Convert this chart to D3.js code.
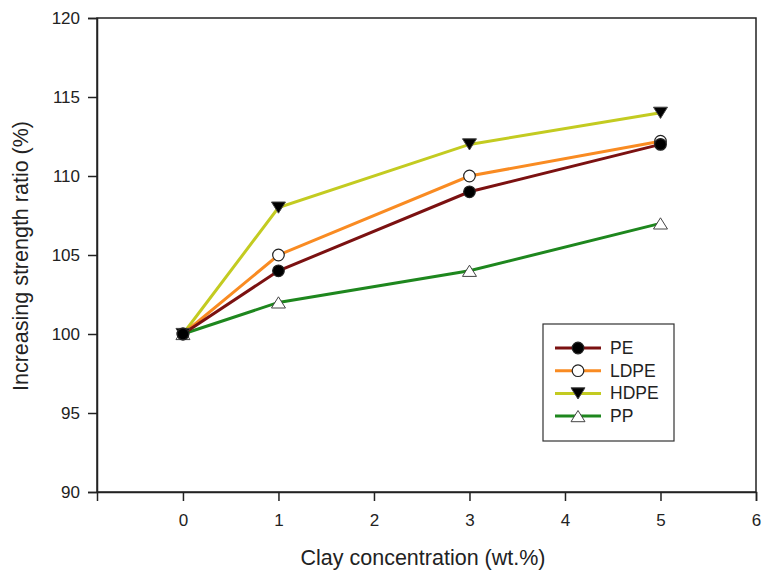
<!DOCTYPE html>
<html>
<head>
<meta charset="utf-8">
<script src="https://cdn.jsdelivr.net/npm/d3@7"></script>
<style>
  body { margin: 0; background: #fff; }
  svg text { font-family: "Liberation Sans", Arial, sans-serif; fill: #222; }
</style>
</head>
<body>
<svg id="chart" width="762" height="571"></svg>
<script>
// Chart data
const clay = [0, 1, 3, 5];
const pe = [100, 104, 109, 112];
const ldpe = [100, 105, 110, 112.2];
const hdpe = [100, 108, 112, 114];
const pp = [100, 102, 104, 107];
const xTicks = [0, 1, 2, 3, 4, 5, 6];
const yTicks = [90, 95, 100, 105, 110, 115, 120];

const series = [
  { name: "PE", values: pe, color: "#7b1111", marker: "circle", fill: "#000" },
  { name: "LDPE", values: ldpe, color: "#f98b22", marker: "circle", fill: "#fff" },
  { name: "HDPE", values: hdpe, color: "#c3cb21", marker: "down", fill: "#000" },
  { name: "PP", values: pp, color: "#1e871e", marker: "up", fill: "#fff" },
];

const svg = d3.select("#chart");
const x = d3.scaleLinear().domain([-0.9, 6]).range([97, 756]);
const y = d3.scaleLinear().domain([90, 120]).range([492, 18]);

// frame
svg.append("rect")
  .attr("x", 97).attr("y", 18)
  .attr("width", 756 - 97).attr("height", 492 - 18)
  .attr("fill", "none").attr("stroke", "#222").attr("stroke-width", 1.5);

const xAxis = svg.append("g")
  .attr("transform", "translate(0,492)")
  .call(d3.axisBottom(x).tickValues(xTicks).tickSize(9).tickPadding(13).tickFormat(d3.format("d")));
const yAxis = svg.append("g")
  .attr("transform", "translate(97,0)")
  .call(d3.axisLeft(y).tickValues(yTicks).tickSize(9).tickPadding(8).tickFormat(d3.format("d")));

[xAxis, yAxis].forEach((g) => {
  g.select(".domain").attr("stroke", "#222").attr("stroke-width", 1.5);
  g.selectAll(".tick line").attr("stroke", "#222").attr("stroke-width", 1.5);
  g.selectAll(".tick text").attr("font-size", 17).attr("fill", "#222")
    .attr("font-family", "'Liberation Sans', Arial, sans-serif");
});

svg.append("text")
  .attr("x", 423).attr("y", 565)
  .attr("text-anchor", "middle").attr("font-size", 21.5)
  .text("Clay concentration (wt.%)");

svg.append("text")
  .attr("transform", "translate(28,256) rotate(-90)")
  .attr("text-anchor", "middle").attr("font-size", 21.5)
  .text("Increasing strength ratio (%)");

function drawMarker(g, type, cx, cy, fill) {
  if (type === "circle") {
    g.append("circle").attr("cx", cx).attr("cy", cy).attr("r", 5.8)
      .attr("fill", fill).attr("stroke", "#222").attr("stroke-width", 1.2);
  } else {
    const s = 7;
    const pts = type === "down"
      ? [[cx - s, cy - s * 0.8], [cx + s, cy - s * 0.8], [cx, cy + s * 0.8]]
      : [[cx - s, cy + s * 0.8], [cx + s, cy + s * 0.8], [cx, cy - s * 0.8]];
    g.append("polygon").attr("points", pts.map((p) => p.join(",")).join(" "))
      .attr("fill", fill).attr("stroke", "#444").attr("stroke-width", 1);
  }
}

const line = d3.line().x((d) => x(d[0])).y((d) => y(d[1]));

// draw lines bottom-up so PE sits on top like the original
const order = [series[3], series[2], series[1], series[0]];
order.forEach((s) => {
  const pts = clay.map((c, i) => [c, s.values[i]]);
  svg.append("path").datum(pts)
    .attr("d", line).attr("fill", "none")
    .attr("stroke", s.color).attr("stroke-width", 3);
});
order.forEach((s) => {
  const g = svg.append("g");
  clay.forEach((c, i) => drawMarker(g, s.marker, x(c), y(s.values[i]), s.fill));
});

// legend
const legend = svg.append("g");
legend.append("rect")
  .attr("x", 543).attr("y", 324).attr("width", 131).attr("height", 117)
  .attr("fill", "#fff").attr("stroke", "#333").attr("stroke-width", 1.2);
series.forEach((s, i) => {
  const ly = 348 + i * 22.7;
  legend.append("line")
    .attr("x1", 555).attr("x2", 601).attr("y1", ly).attr("y2", ly)
    .attr("stroke", s.color).attr("stroke-width", 3);
  drawMarker(legend, s.marker, 578, ly, s.fill);
  legend.append("text")
    .attr("x", 610).attr("y", ly + 6).attr("font-size", 17.5)
    .text(s.name);
});
</script>
</body>
</html>
